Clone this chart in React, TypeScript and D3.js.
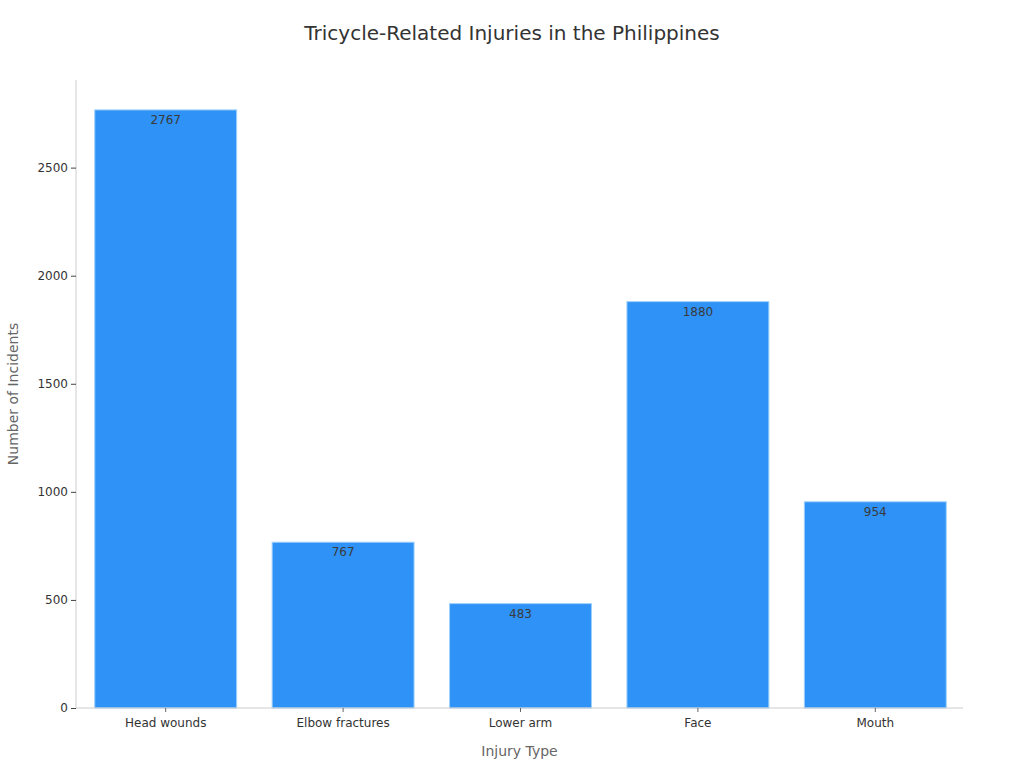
import React, { useEffect, useRef } from 'react';
import * as d3 from 'd3';

const categories = ['Head wounds', 'Elbow fractures', 'Lower arm', 'Face', 'Mouth'];
const incidents = [2767, 767, 483, 1880, 954];
const yTicks = [0, 500, 1000, 1500, 2000, 2500];

const width = 1024;
const height = 768;
const margin = { top: 80, right: 61, bottom: 60, left: 76 };

const App: React.FC = () => {
  const svgRef = useRef<SVGSVGElement>(null);

  useEffect(() => {
    if (!svgRef.current) return;
    const svg = d3.select(svgRef.current);
    svg.selectAll('*').remove();

    const font = '"DejaVu Sans", Verdana, sans-serif';
    const x = d3.scaleBand<string>()
      .domain(categories)
      .range([margin.left + 1, width - margin.right + 1])
      .paddingInner(0.2)
      .paddingOuter(0.1);
    const y = d3.scaleLinear()
      .domain([0, d3.max(incidents)! * 1.05])
      .range([height - margin.bottom, margin.top]);

    // title
    svg.append('text')
      .attr('x', width / 2)
      .attr('y', 40)
      .attr('text-anchor', 'middle')
      .style('font-family', font)
      .style('font-size', '20px')
      .style('fill', '#333')
      .text('Tricycle-Related Injuries in the Philippines');

    // bars
    const data = categories.map((c, i) => ({ cat: c, value: incidents[i] }));
    svg.append('g')
      .selectAll('rect')
      .data(data)
      .enter()
      .append('rect')
      .attr('x', d => x(d.cat)!)
      .attr('y', d => y(d.value))
      .attr('width', x.bandwidth())
      .attr('height', d => y(0) - y(d.value))
      .style('fill', '#2e92f7')
      .style('stroke', '#9fd0fb')
      .style('stroke-width', 1);

    // value labels
    svg.append('g')
      .selectAll('text')
      .data(data)
      .enter()
      .append('text')
      .attr('x', d => x(d.cat)! + x.bandwidth() / 2)
      .attr('y', d => y(d.value) + 14)
      .attr('text-anchor', 'middle')
      .style('font-family', font)
      .style('font-size', '12px')
      .style('fill', '#3a3a3a')
      .text(d => String(d.value));

    // y axis
    const yAxis = svg.append('g')
      .attr('transform', `translate(${margin.left},0)`)
      .call(d3.axisLeft(y).tickValues(yTicks).tickFormat(d3.format('d')).tickSize(5).tickPadding(3));
    yAxis.select('.domain').attr('stroke', '#ccc').attr('d', `M0,${y(0)}V${margin.top}`);
    yAxis.selectAll('.tick line').attr('stroke', '#444');
    yAxis.selectAll('.tick text')
      .style('font-family', font)
      .style('font-size', '12px')
      .style('fill', '#333');

    // x axis
    const xAxis = svg.append('g')
      .attr('transform', `translate(0,${y(0)})`)
      .call(d3.axisBottom(x).tickSize(4).tickPadding(6));
    xAxis.select('.domain').attr('stroke', '#ccc').attr('d', `M${margin.left},0H${width - margin.right}`);
    xAxis.selectAll('.tick line').attr('stroke', '#666');
    xAxis.selectAll('.tick text')
      .style('font-family', font)
      .style('font-size', '12px')
      .style('fill', '#333');

    // axis titles
    svg.append('text')
      .attr('x', (margin.left + width - margin.right) / 2)
      .attr('y', 756)
      .attr('text-anchor', 'middle')
      .style('font-family', font)
      .style('font-size', '14px')
      .style('fill', '#666')
      .text('Injury Type');

    svg.append('text')
      .attr('transform', `translate(18,${(margin.top + height - margin.bottom) / 2}) rotate(-90)`)
      .attr('text-anchor', 'middle')
      .style('font-family', font)
      .style('font-size', '14px')
      .style('fill', '#666')
      .text('Number of Incidents');
  }, []);

  return (
    <div style={{ position: 'absolute', left: 0, top: 0 }}>
      <svg ref={svgRef} width={width} height={height} style={{ display: 'block', background: '#fff' }} />
    </div>
  );
};

export default App;
